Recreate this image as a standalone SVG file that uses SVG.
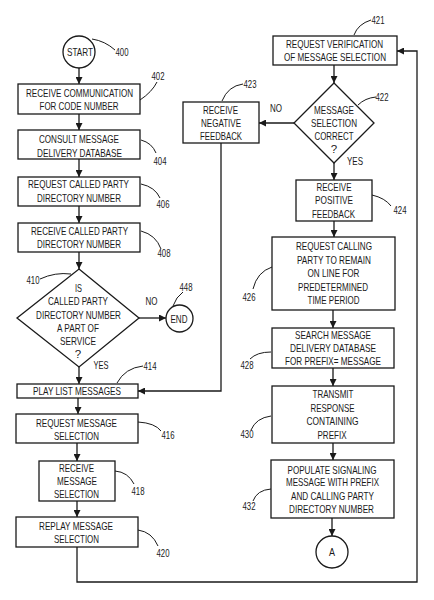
<svg xmlns="http://www.w3.org/2000/svg" width="434" height="600" viewBox="0 0 434 600">
<defs>
<marker id="arr" viewBox="0 0 10 10" refX="10" refY="5" markerWidth="7" markerHeight="7" markerUnits="userSpaceOnUse" orient="auto">
<path d="M0,0 L10,5 L0,10 z" fill="#1a1a1a"/>
</marker>
<style>
.b{fill:#fff;stroke:#1a1a1a;stroke-width:1.3}
.c{fill:none;stroke:#1a1a1a;stroke-width:1.3}
.l{fill:none;stroke:#1a1a1a;stroke-width:1}
text{font-family:"Liberation Sans",Arial,sans-serif;font-size:11.5px;fill:#1a1a1a;text-anchor:middle}
.n{font-size:10.5px}
</style>
</defs>
<rect width="434" height="600" fill="#fff"/>

<g id="connectors">
<line class="c" x1="79" y1="68" x2="79" y2="84" marker-end="url(#arr)"/>
<line class="c" x1="79" y1="114" x2="79" y2="130" marker-end="url(#arr)"/>
<line class="c" x1="79" y1="159" x2="79" y2="177" marker-end="url(#arr)"/>
<line class="c" x1="79" y1="206" x2="79" y2="223" marker-end="url(#arr)"/>
<line class="c" x1="79" y1="252" x2="79" y2="269" marker-end="url(#arr)"/>
<line class="c" x1="139" y1="318" x2="166" y2="318" marker-end="url(#arr)"/>
<line class="c" x1="79" y1="367" x2="79" y2="384" marker-end="url(#arr)"/>
<line class="c" x1="78" y1="398" x2="78" y2="414" marker-end="url(#arr)"/>
<line class="c" x1="77" y1="443" x2="77" y2="461" marker-end="url(#arr)"/>
<line class="c" x1="77" y1="501" x2="77" y2="517" marker-end="url(#arr)"/>
<polyline class="c" points="77,547 77,582 417,582 417,51 397,51" marker-end="url(#arr)"/>
<line class="c" x1="334" y1="65" x2="334" y2="83" marker-end="url(#arr)"/>
<line class="c" x1="294" y1="123" x2="259" y2="123" marker-end="url(#arr)"/>
<polyline class="c" points="221,143 221,391 138,391" marker-end="url(#arr)"/>
<line class="c" x1="334" y1="163" x2="334" y2="180" marker-end="url(#arr)"/>
<line class="c" x1="334" y1="221" x2="334" y2="237" marker-end="url(#arr)"/>
<line class="c" x1="333" y1="310" x2="333" y2="328" marker-end="url(#arr)"/>
<line class="c" x1="333" y1="368" x2="333" y2="386" marker-end="url(#arr)"/>
<line class="c" x1="333" y1="443" x2="333" y2="460" marker-end="url(#arr)"/>
<line class="c" x1="332" y1="518" x2="332" y2="536" marker-end="url(#arr)"/>
</g>

<g id="n400">
<circle class="b" cx="79" cy="52" r="16"/>
<text x="80" y="56.2" textLength="26" lengthAdjust="spacingAndGlyphs">START</text>
<path class="l" d="M92,39 Q105,41 115,50"/>
<text class="n" x="122" y="56" textLength="13" lengthAdjust="spacingAndGlyphs">400</text>
</g>

<g id="n402">
<rect class="b" x="18" y="84" width="122" height="30"/>
<text x="79.5" y="97" textLength="107" lengthAdjust="spacingAndGlyphs">RECEIVE COMMUNICATION</text>
<text x="79" y="110" textLength="79" lengthAdjust="spacingAndGlyphs">FOR CODE NUMBER</text>
<path class="l" d="M140,100 Q152,92 157,82"/>
<text class="n" x="158" y="80" textLength="13" lengthAdjust="spacingAndGlyphs">402</text>
</g>

<g id="n404">
<rect class="b" x="18" y="130" width="122" height="29"/>
<text x="79" y="142.5" textLength="80" lengthAdjust="spacingAndGlyphs">CONSULT MESSAGE</text>
<text x="79.5" y="156.5" textLength="85" lengthAdjust="spacingAndGlyphs">DELIVERY DATABASE</text>
<path class="l" d="M141,140 Q152,143 156,153"/>
<text class="n" x="160" y="165" textLength="13" lengthAdjust="spacingAndGlyphs">404</text>
</g>

<g id="n406">
<rect class="b" x="18" y="177" width="122" height="29"/>
<text x="78.5" y="188.3" textLength="101" lengthAdjust="spacingAndGlyphs">REQUEST CALLED PARTY</text>
<text x="79" y="201.8" textLength="84" lengthAdjust="spacingAndGlyphs">DIRECTORY NUMBER</text>
<path class="l" d="M141,184 Q155,187 160,198"/>
<text class="n" x="163" y="208" textLength="13" lengthAdjust="spacingAndGlyphs">406</text>
</g>

<g id="n408">
<rect class="b" x="18" y="223" width="122" height="29"/>
<text x="79.5" y="235" textLength="97" lengthAdjust="spacingAndGlyphs">RECEIVE CALLED PARTY</text>
<text x="79" y="247.7" textLength="84" lengthAdjust="spacingAndGlyphs">DIRECTORY NUMBER</text>
<path class="l" d="M141,231 Q156,235 161,249"/>
<text class="n" x="164" y="257" textLength="13" lengthAdjust="spacingAndGlyphs">408</text>
</g>

<g id="n410">
<polygon class="b" points="79,269 139,318 79,367 17,318"/>
<text x="78.5" y="291.5" textLength="7" lengthAdjust="spacingAndGlyphs">IS</text>
<text x="78" y="304.9" textLength="60" lengthAdjust="spacingAndGlyphs">CALLED PARTY</text>
<text x="78.5" y="318.5" textLength="85" lengthAdjust="spacingAndGlyphs">DIRECTORY NUMBER</text>
<text x="78" y="331.9" textLength="42" lengthAdjust="spacingAndGlyphs">A PART OF</text>
<text x="78" y="345.2" textLength="36" lengthAdjust="spacingAndGlyphs">SERVICE</text>
<text x="78" y="358.2">?</text>
<path class="l" d="M40,279 Q55,272 71,274"/>
<text class="n" x="33" y="284" textLength="13" lengthAdjust="spacingAndGlyphs">410</text>
<text x="151.5" y="305" textLength="12" lengthAdjust="spacingAndGlyphs">NO</text>
<text x="101" y="369" textLength="15" lengthAdjust="spacingAndGlyphs">YES</text>
</g>

<g id="n448">
<circle class="b" cx="179.5" cy="318.5" r="13.5"/>
<text x="179" y="322.7" textLength="17" lengthAdjust="spacingAndGlyphs">END</text>
<path class="l" d="M173,306 Q176,297 183,292"/>
<text class="n" x="186" y="290.5" textLength="13" lengthAdjust="spacingAndGlyphs">448</text>
</g>

<g id="n414">
<rect class="b" x="17" y="384" width="121" height="14"/>
<text x="77" y="395.2" textLength="88" lengthAdjust="spacingAndGlyphs">PLAY LIST MESSAGES</text>
<path class="l" d="M117,383 Q125,368 143,366"/>
<text class="n" x="150" y="370" textLength="13" lengthAdjust="spacingAndGlyphs">414</text>
</g>

<g id="n416">
<rect class="b" x="16" y="414" width="122" height="29"/>
<text x="76.5" y="427" textLength="81" lengthAdjust="spacingAndGlyphs">REQUEST MESSAGE</text>
<text x="76.5" y="440" textLength="45" lengthAdjust="spacingAndGlyphs">SELECTION</text>
<path class="l" d="M138,422 Q155,423 161,431"/>
<text class="n" x="168" y="439" textLength="13" lengthAdjust="spacingAndGlyphs">416</text>
</g>

<g id="n418">
<rect class="b" x="39" y="461" width="76" height="40"/>
<text x="76.5" y="472.2" textLength="35" lengthAdjust="spacingAndGlyphs">RECEIVE</text>
<text x="77" y="485.2" textLength="40" lengthAdjust="spacingAndGlyphs">MESSAGE</text>
<text x="76.5" y="498.2" textLength="45" lengthAdjust="spacingAndGlyphs">SELECTION</text>
<path class="l" d="M115,471 Q128,472 134,484"/>
<text class="n" x="138" y="495" textLength="13" lengthAdjust="spacingAndGlyphs">418</text>
</g>

<g id="n420">
<rect class="b" x="16" y="517" width="122" height="30"/>
<text x="76" y="529.5" textLength="74" lengthAdjust="spacingAndGlyphs">REPLAY MESSAGE</text>
<text x="76.5" y="542.5" textLength="45" lengthAdjust="spacingAndGlyphs">SELECTION</text>
<path class="l" d="M138,530 Q152,532 158,546"/>
<text class="n" x="163" y="557" textLength="13" lengthAdjust="spacingAndGlyphs">420</text>
</g>

<g id="n421">
<rect class="b" x="273" y="36" width="124" height="29"/>
<text x="334.5" y="47.7" textLength="97" lengthAdjust="spacingAndGlyphs">REQUEST VERIFICATION</text>
<text x="335" y="61.3" textLength="102" lengthAdjust="spacingAndGlyphs">OF MESSAGE SELECTION</text>
<path class="l" d="M354,35 Q358,24 371,20"/>
<text class="n" x="378" y="24" textLength="13" lengthAdjust="spacingAndGlyphs">421</text>
</g>

<g id="n422">
<polygon class="b" points="334,83 374,123 334,163 294,123"/>
<text x="334" y="113.5" textLength="40" lengthAdjust="spacingAndGlyphs">MESSAGE</text>
<text x="334" y="127.2" textLength="46" lengthAdjust="spacingAndGlyphs">SELECTION</text>
<text x="334" y="140.2" textLength="39" lengthAdjust="spacingAndGlyphs">CORRECT</text>
<text x="334" y="152.9">?</text>
<path class="l" d="M358,105 Q365,98 376,97"/>
<text class="n" x="382" y="101" textLength="13" lengthAdjust="spacingAndGlyphs">422</text>
<text x="276" y="112" textLength="12" lengthAdjust="spacingAndGlyphs">NO</text>
<text x="355" y="165" textLength="16" lengthAdjust="spacingAndGlyphs">YES</text>
</g>

<g id="n423">
<rect class="b" x="183" y="102" width="76" height="41"/>
<text x="220.5" y="113.5" textLength="35" lengthAdjust="spacingAndGlyphs">RECEIVE</text>
<text x="221" y="127" textLength="40" lengthAdjust="spacingAndGlyphs">NEGATIVE</text>
<text x="221" y="140" textLength="42" lengthAdjust="spacingAndGlyphs">FEEDBACK</text>
<path class="l" d="M222,101 Q228,86 243,84"/>
<text class="n" x="250" y="88" textLength="13" lengthAdjust="spacingAndGlyphs">423</text>
</g>

<g id="n424">
<rect class="b" x="296" y="180" width="76" height="41"/>
<text x="334" y="191" textLength="35" lengthAdjust="spacingAndGlyphs">RECEIVE</text>
<text x="334" y="204.2" textLength="38" lengthAdjust="spacingAndGlyphs">POSITIVE</text>
<text x="333.5" y="217.5" textLength="43" lengthAdjust="spacingAndGlyphs">FEEDBACK</text>
<path class="l" d="M372,195 Q385,198 391,206"/>
<text class="n" x="400" y="214" textLength="13" lengthAdjust="spacingAndGlyphs">424</text>
</g>

<g id="n426">
<rect class="b" x="272" y="237" width="123" height="73"/>
<text x="334" y="250.2" textLength="76" lengthAdjust="spacingAndGlyphs">REQUEST CALLING</text>
<text x="334" y="263.5" textLength="74" lengthAdjust="spacingAndGlyphs">PARTY TO REMAIN</text>
<text x="333.5" y="276.9" textLength="52" lengthAdjust="spacingAndGlyphs">ON LINE FOR</text>
<text x="333" y="290.9" textLength="70" lengthAdjust="spacingAndGlyphs">PREDETERMINED</text>
<text x="333.5" y="304.2" textLength="52" lengthAdjust="spacingAndGlyphs">TIME PERIOD</text>
<path class="l" d="M272,267 Q257,272 253,289"/>
<text class="n" x="249" y="301" textLength="13" lengthAdjust="spacingAndGlyphs">426</text>
</g>

<g id="n428">
<rect class="b" x="272" y="328" width="122" height="40"/>
<text x="333" y="339.2" textLength="76" lengthAdjust="spacingAndGlyphs">SEARCH MESSAGE</text>
<text x="333" y="351.5" textLength="86" lengthAdjust="spacingAndGlyphs">DELIVERY DATABASE</text>
<text x="333" y="365.2" textLength="96" lengthAdjust="spacingAndGlyphs">FOR PREFIX= MESSAGE</text>
<path class="l" d="M271,352 Q257,352 250,359"/>
<text class="n" x="247" y="369" textLength="13" lengthAdjust="spacingAndGlyphs">428</text>
</g>

<g id="n430">
<rect class="b" x="272" y="386" width="122" height="57"/>
<text x="333" y="398.2" textLength="41" lengthAdjust="spacingAndGlyphs">TRANSMIT</text>
<text x="332.5" y="411.5" textLength="44" lengthAdjust="spacingAndGlyphs">RESPONSE</text>
<text x="332.5" y="424.9" textLength="52" lengthAdjust="spacingAndGlyphs">CONTAINING</text>
<text x="332" y="438.5" textLength="29" lengthAdjust="spacingAndGlyphs">PREFIX</text>
<path class="l" d="M271,416 Q256,418 251,430"/>
<text class="n" x="247" y="438" textLength="13" lengthAdjust="spacingAndGlyphs">430</text>
</g>

<g id="n432">
<rect class="b" x="271" y="460" width="123" height="58"/>
<text x="332" y="473.5" textLength="89" lengthAdjust="spacingAndGlyphs">POPULATE SIGNALING</text>
<text x="332.5" y="485.9" textLength="93" lengthAdjust="spacingAndGlyphs">MESSAGE WITH PREFIX</text>
<text x="332.5" y="499.9" textLength="83" lengthAdjust="spacingAndGlyphs">AND CALLING PARTY</text>
<text x="331.5" y="513.2" textLength="85" lengthAdjust="spacingAndGlyphs">DIRECTORY NUMBER</text>
<path class="l" d="M271,489 Q257,490 253,501"/>
<text class="n" x="249" y="510" textLength="13" lengthAdjust="spacingAndGlyphs">432</text>
</g>

<g id="nA">
<circle class="b" cx="332" cy="552" r="16"/>
<text x="332" y="556.2" textLength="6" lengthAdjust="spacingAndGlyphs">A</text>
</g>
</svg>
